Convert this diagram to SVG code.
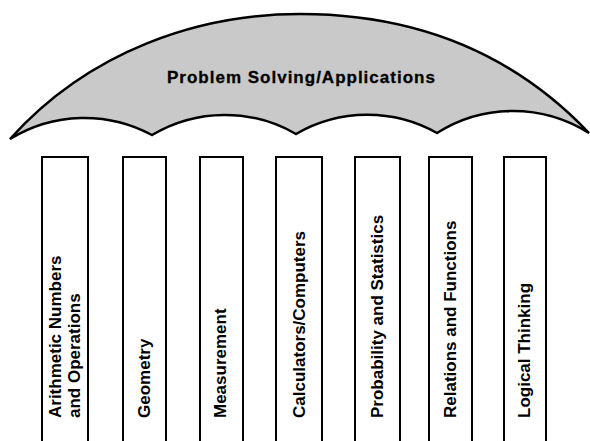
<svg xmlns="http://www.w3.org/2000/svg" width="590" height="441" viewBox="0 0 590 441">
<style>
.canopy{fill:#c9c9c9;stroke:#000;stroke-width:2.5;stroke-linejoin:miter}
.pillar{fill:#fff;stroke:#000;stroke-width:2}
.t{font-family:"Liberation Sans",Arial,sans-serif;font-weight:bold;font-size:17px;fill:#000}
.title{letter-spacing:1px;stroke:#000;stroke-width:0.3}
</style>
<rect width="590" height="441" fill="#fff"/>
<g id="umbrella">
<path class="canopy" d="M10,139 C90,50 200,14 300,14 C410,14 510,50 589,133 A142,142 0 0 0 437,133 A142,142 0 0 0 296,134 A142,142 0 0 0 152,135 A142,142 0 0 0 10,139 Z"/>
<text class="t title" x="167" y="83">Problem Solving/Applications</text>
</g>
<g id="connectors"></g>
<g id="pillar-arithmetic">
<rect class="pillar" x="42" y="157" width="46" height="300"/>
<text class="t" transform="translate(61,418) rotate(-90)">Arithmetic Numbers</text>
<text class="t" transform="translate(80,418) rotate(-90)">and Operations</text>
</g>
<g id="pillar-geometry">
<rect class="pillar" x="123" y="157" width="43" height="300"/>
<text class="t" transform="translate(150,418) rotate(-90)">Geometry</text>
</g>
<g id="pillar-measurement">
<rect class="pillar" x="200" y="157" width="43" height="300"/>
<text class="t" transform="translate(226,418) rotate(-90)">Measurement</text>
</g>
<g id="pillar-calculators">
<rect class="pillar" x="276" y="157" width="46" height="300"/>
<text class="t" transform="translate(305,418) rotate(-90)">Calculators/Computers</text>
</g>
<g id="pillar-probability">
<rect class="pillar" x="355" y="157" width="45" height="300"/>
<text class="t" transform="translate(383,418) rotate(-90)">Probability and Statistics</text>
</g>
<g id="pillar-relations">
<rect class="pillar" x="429" y="157" width="43" height="300"/>
<text class="t" transform="translate(456,418) rotate(-90)">Relations and Functions</text>
</g>
<g id="pillar-logical">
<rect class="pillar" x="504" y="157" width="42" height="300"/>
<text class="t" transform="translate(530,418) rotate(-90)">Logical Thinking</text>
</g>
</svg>
